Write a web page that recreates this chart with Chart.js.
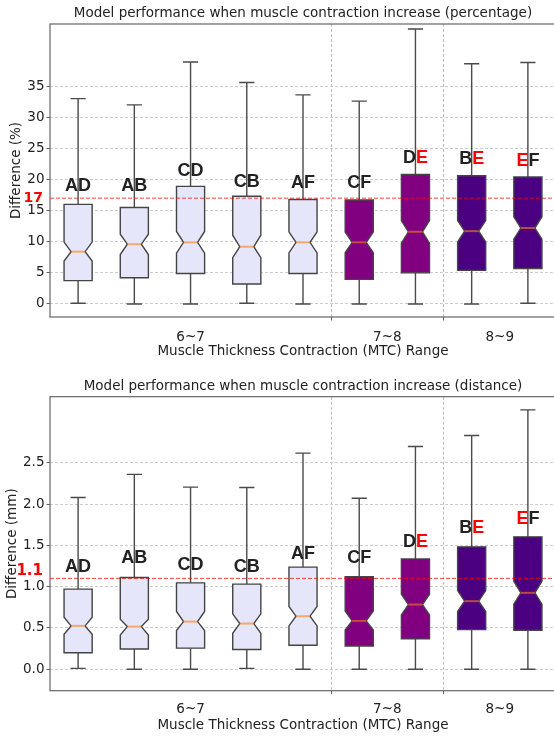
<!DOCTYPE html>
<html>
<head>
<meta charset="utf-8">
<script src="https://cdn.jsdelivr.net/npm/chart.js@4.4.1/dist/chart.umd.min.js"></script>
<style>
  html, body { margin: 0; padding: 0; background: #fff; overflow: hidden; width: 554px; height: 736px; }
  .wrap { position: absolute; left: 0; width: 570px; }
</style>
</head>
<body>
<div class="wrap" style="top:0;height:360px"><canvas id="pctChart"></canvas></div>
<div class="wrap" style="top:370px;height:366px"><canvas id="mmChart"></canvas></div>
<script>
// groups, one box each
const boxLabels = ["AD", "AB", "CD", "CB", "AF", "CF", "DE", "BE", "EF"];
const positions = [1, 2, 3, 4, 5, 6, 7, 8, 9];
const rangeTickValues = [3, 5.5, 6.5, 7.5, 8.5];
const rangeTickLabels = ["6~7", "", "7~8", "", "8~9"];
const boxFills = ["#e6e6fa", "#e6e6fa", "#e6e6fa", "#e6e6fa", "#e6e6fa",
                  "#800080", "#800080", "#4b0082", "#4b0082"];

// percentage chart
const pctWhiskerLo = [0.1, 0, 0, 0.1, 0, 0, 0, 0, 0.1];
const pctQ1 = [3.75, 4.2, 4.9, 3.2, 4.9, 3.95, 5.0, 5.4, 5.7];
const pctNotchLo = [6.9, 7.95, 8.15, 7.45, 8.2, 8.25, 9.75, 9.95, 10.4];
const pctMedian = [8.4, 9.6, 9.9, 9.2, 9.9, 9.9, 11.6, 11.7, 12.2];
const pctNotchHi = [9.95, 11.2, 11.65, 11.05, 11.6, 11.55, 13.4, 13.4, 14.0];
const pctQ3 = [16.0, 15.5, 18.9, 17.3, 16.8, 16.7, 20.8, 20.6, 20.4];
const pctWhiskerHi = [33.0, 32.0, 38.9, 35.6, 33.6, 32.6, 44.2, 38.6, 38.8];
const pctLabelY = [18.9, 19.0, 21.4, 19.6, 19.5, 19.5, 23.4, 23.3, 23.0];
const pctTicks = [0, 5, 10, 15, 20, 25, 30, 35];
const pctRef = 17;

// distance chart
const mmWhiskerLo = [0.01, 0, 0, 0.01, 0, 0, 0, 0, 0];
const mmQ1 = [0.20, 0.245, 0.255, 0.238, 0.29, 0.282, 0.367, 0.48, 0.472];
const mmNotchLo = [0.424, 0.415, 0.468, 0.436, 0.525, 0.476, 0.658, 0.698, 0.787];
const mmMedian = [0.525, 0.516, 0.577, 0.553, 0.642, 0.585, 0.783, 0.824, 0.925];
const mmNotchHi = [0.63, 0.605, 0.70, 0.67, 0.76, 0.706, 0.908, 0.953, 1.066];
const mmQ3 = [0.97, 1.11, 1.046, 1.03, 1.236, 1.12, 1.336, 1.482, 1.603];
const mmWhiskerHi = [2.08, 2.36, 2.205, 2.2, 2.617, 2.07, 2.697, 2.83, 3.14];
const mmLabelY = [1.243, 1.345, 1.264, 1.243, 1.397, 1.345, 1.539, 1.704, 1.821];
const mmTicks = [0, 0.5, 1.0, 1.5, 2.0, 2.5];
const mmRef = 1.1;

const FONT = "'DejaVu Sans', sans-serif";
const BOX_W = 0.5;
const CAP_W = 0.27;

const boxPlot = {
  id: "boxPlot",
  afterDatasetsDraw(chart, args, opts) {
    const { ctx, scales: { x, y } } = chart;
    const s = opts.stats;
    const py = (v) => y.getPixelForValue(v);
    ctx.save();
    positions.forEach((p, i) => {
      const cx = x.getPixelForValue(p);
      const hw = x.getPixelForValue(p + BOX_W / 2) - cx;
      const nw = hw * 0.5;
      const cw = x.getPixelForValue(p + CAP_W / 2) - cx;

      ctx.strokeStyle = "#4a4a4a";
      ctx.lineWidth = 1.4;
      ctx.beginPath();
      ctx.moveTo(cx, py(s.q3[i])); ctx.lineTo(cx, py(s.hi[i]));
      ctx.moveTo(cx - cw, py(s.hi[i])); ctx.lineTo(cx + cw, py(s.hi[i]));
      ctx.moveTo(cx, py(s.q1[i])); ctx.lineTo(cx, py(s.lo[i]));
      ctx.moveTo(cx - cw, py(s.lo[i])); ctx.lineTo(cx + cw, py(s.lo[i]));
      ctx.stroke();

      ctx.beginPath();
      ctx.moveTo(cx - hw, py(s.q1[i]));
      ctx.lineTo(cx - hw, py(s.nLo[i]));
      ctx.lineTo(cx - nw, py(s.med[i]));
      ctx.lineTo(cx - hw, py(s.nHi[i]));
      ctx.lineTo(cx - hw, py(s.q3[i]));
      ctx.lineTo(cx + hw, py(s.q3[i]));
      ctx.lineTo(cx + hw, py(s.nHi[i]));
      ctx.lineTo(cx + nw, py(s.med[i]));
      ctx.lineTo(cx + hw, py(s.nLo[i]));
      ctx.lineTo(cx + hw, py(s.q1[i]));
      ctx.closePath();
      ctx.fillStyle = boxFills[i];
      ctx.fill();
      ctx.strokeStyle = "#444";
      ctx.lineWidth = 1.4;
      ctx.stroke();

      ctx.strokeStyle = "rgba(255,127,14,0.6)";
      ctx.lineWidth = 2;
      ctx.beginPath();
      ctx.moveTo(cx - nw, py(s.med[i]));
      ctx.lineTo(cx + nw, py(s.med[i]));
      ctx.stroke();
    });
    ctx.restore();
  },
  afterDraw(chart, args, opts) {
    const { ctx, chartArea: a, scales: { x, y } } = chart;
    ctx.save();
    // frame
    ctx.strokeStyle = "#666";
    ctx.lineWidth = 1.2;
    ctx.strokeRect(a.left, a.top, a.right - a.left, a.bottom - a.top);

    // reference line
    const ry = y.getPixelForValue(opts.ref);
    ctx.strokeStyle = "rgba(255,0,0,0.75)";
    ctx.lineWidth = 1;
    ctx.setLineDash([4, 2]);
    ctx.beginPath();
    ctx.moveTo(a.left, ry);
    ctx.lineTo(a.right, ry);
    ctx.stroke();
    ctx.setLineDash([]);

    ctx.fillStyle = "#ff0000";
    ctx.font = "bold " + opts.refSize + "px " + FONT;
    ctx.textAlign = "right";
    ctx.textBaseline = "middle";
    ctx.fillText(opts.refText, a.left - 7, ry + opts.refShift);

    // title
    ctx.fillStyle = "#222";
    ctx.font = "13.5px " + FONT;
    ctx.textAlign = "center";
    ctx.fillText(opts.title, (a.left + a.right) / 2, opts.titleY);

    // group letters, E in red
    ctx.font = "bold 18px 'Liberation Sans', Arial, sans-serif";
    ctx.textAlign = "left";
    positions.forEach((p, i) => {
      const text = boxLabels[i];
      const w = ctx.measureText(text).width;
      let tx = x.getPixelForValue(p) - w / 2;
      const ty = y.getPixelForValue(opts.labelY[i]);
      for (const ch of text) {
        ctx.fillStyle = ch === "E" ? "#ff0000" : "#222";
        ctx.fillText(ch, tx, ty);
        tx += ctx.measureText(ch).width;
      }
    });
    ctx.restore();
  }
};

function makeChart(id, cfg) {
  return new Chart(document.getElementById(id), {
    type: "scatter",
    data: {
      datasets: [{
        data: positions.map((p, i) => ({ x: p, y: cfg.stats.med[i] })),
        pointRadius: 0,
        showLine: false
      }]
    },
    options: {
      responsive: true,
      maintainAspectRatio: false,
      animation: false,
      layout: { padding: { top: cfg.padTop, right: 14, left: 0, bottom: 0 } },
      plugins: {
        legend: { display: false },
        tooltip: { enabled: false },
        boxPlot: {
          stats: cfg.stats,
          labelY: cfg.labelY,
          ref: cfg.ref,
          refText: cfg.refText,
          refSize: cfg.refSize,
          refShift: cfg.refShift,
          title: cfg.title,
          titleY: cfg.titleY
        }
      },
      scales: {
        x: {
          type: "linear",
          min: 0.5,
          max: 9.5,
          afterBuildTicks: (s) => { s.ticks = rangeTickValues.map((v) => ({ value: v })); },
          afterFit: (s) => { s.height = cfg.bottomH; },
          border: { display: false, dash: [3, 2] },
          grid: {
            color: (c) => (c.tick && (c.tick.value === 5.5 || c.tick.value === 7.5)) ? "#bdbdbd" : "rgba(0,0,0,0)",
            tickColor: (c) => (c.tick && (c.tick.value === 5.5 || c.tick.value === 7.5)) ? "#666" : "rgba(0,0,0,0)",
            tickLength: 3.5,
            lineWidth: 1
          },
          ticks: {
            autoSkip: false,
            maxRotation: 0,
            padding: cfg.xTickPad,
            color: "#222",
            font: { family: FONT, size: 13.5 },
            callback: (v) => {
              const k = rangeTickValues.indexOf(v);
              return k >= 0 ? rangeTickLabels[k] : "";
            }
          },
          title: {
            display: true,
            text: "Muscle Thickness Contraction (MTC) Range",
            color: "#222",
            font: { family: FONT, size: 13.5 },
            padding: { top: 0, bottom: cfg.xTitlePad }
          }
        },
        y: {
          min: cfg.min,
          max: cfg.max,
          afterBuildTicks: (s) => { s.ticks = cfg.ticks.map((v) => ({ value: v })); },
          afterFit: (s) => { s.width = 50; },
          border: { display: false, dash: [3, 2] },
          grid: {
            color: "#cccccc",
            tickColor: "#666",
            tickLength: 3.5,
            lineWidth: 1
          },
          ticks: {
            autoSkip: false,
            padding: 2,
            color: "#222",
            font: { family: FONT, size: 13.5 },
            callback: cfg.fmt
          },
          title: {
            display: true,
            text: cfg.yTitle,
            color: "#222",
            font: { family: FONT, size: 13.5 },
            padding: { top: cfg.yTitlePad, bottom: 0 }
          }
        }
      }
    },
    plugins: [boxPlot]
  });
}

makeChart("pctChart", {
  stats: { lo: pctWhiskerLo, q1: pctQ1, nLo: pctNotchLo, med: pctMedian, nHi: pctNotchHi, q3: pctQ3, hi: pctWhiskerHi },
  labelY: pctLabelY,
  ticks: pctTicks,
  min: -2.1,
  max: 45,
  ref: pctRef,
  refText: "17",
  refSize: 14,
  refShift: 0,
  fmt: (v) => String(v),
  title: "Model performance when muscle contraction increase (percentage)",
  titleY: 13,
  yTitle: "Difference (%)",
  yTitlePad: 8.6,
  padTop: 24,
  bottomH: 43,
  xTickPad: 8.6,
  xTitlePad: 0
});

makeChart("mmChart", {
  stats: { lo: mmWhiskerLo, q1: mmQ1, nLo: mmNotchLo, med: mmMedian, nHi: mmNotchHi, q3: mmQ3, hi: mmWhiskerHi },
  labelY: mmLabelY,
  ticks: mmTicks,
  min: -0.26,
  max: 3.3,
  ref: mmRef,
  refText: "1.1",
  refSize: 15,
  refShift: -7.5,
  fmt: (v) => v.toFixed(1),
  title: "Model performance when muscle contraction increase (distance)",
  titleY: 16.7,
  yTitle: "Difference (mm)",
  yTitlePad: 4.4,
  padTop: 26.7,
  bottomH: 45.3,
  xTickPad: 6.9,
  xTitlePad: 2.9
});
</script>
</body>
</html>
